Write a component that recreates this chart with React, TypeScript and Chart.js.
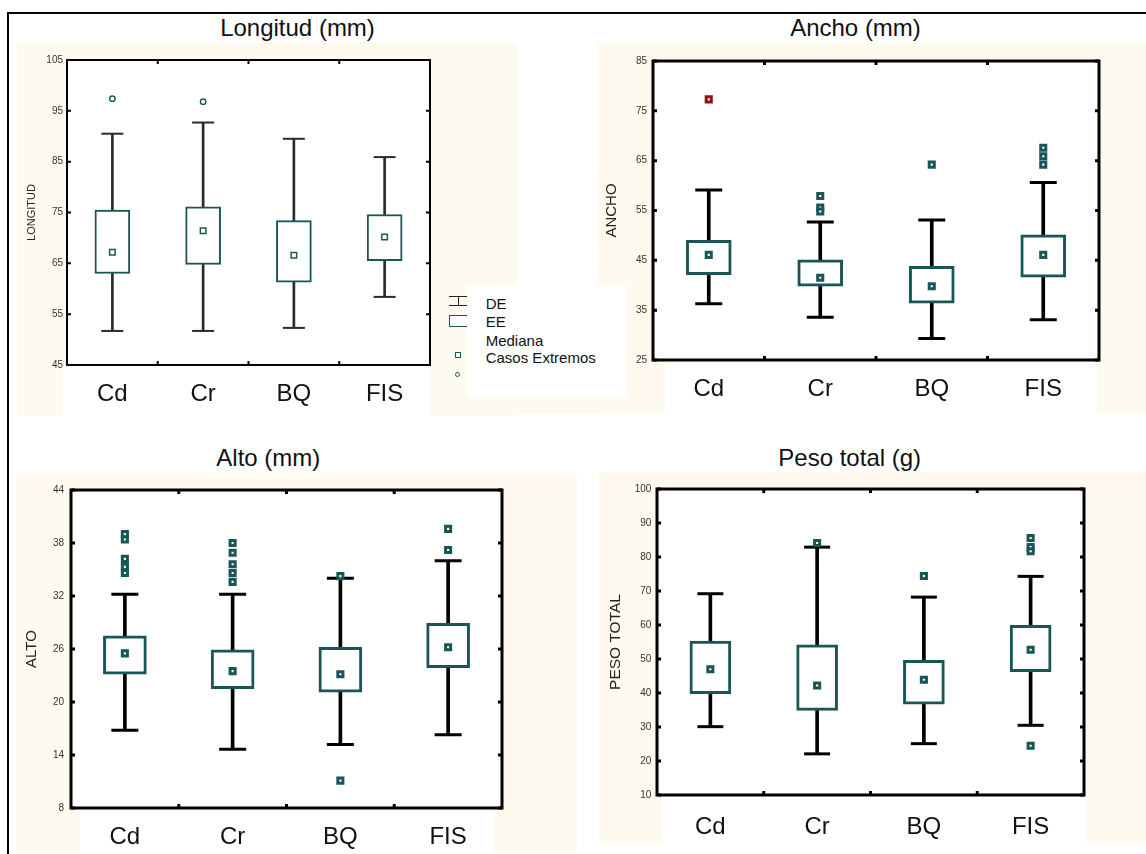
import React, { useEffect, useRef } from 'react';
import { Chart, registerables } from 'chart.js';
Chart.register(...registerables);

const FONT = "'Liberation Sans', Arial, Helvetica, sans-serif";
const TEAL = '#1a5656';
const RED = '#8b1414';
const CREAM = '#fffaf0';

const categories = ['Cd', 'Cr', 'BQ', 'FIS'];

// Longitud (mm)
const longitudDE = [[51.7, 90.5], [51.7, 92.7], [52.3, 89.5], [58.4, 85.9]];
const longitudEE = [[63.0, 75.5], [64.8, 76.1], [61.3, 73.4], [65.5, 74.6]];
const longitudMediana = [67.2, 71.4, 66.6, 70.2];
const longitudExtremos = [{ x: 'Cd', y: 97.4 }, { x: 'Cr', y: 96.8 }];

// Ancho (mm)
const anchoDE = [[36.3, 59.1], [33.6, 52.7], [29.3, 53.1], [33.1, 60.6]];
const anchoEE = [[42.1, 49.0], [39.8, 45.1], [36.4, 43.8], [41.6, 50.1]];
const anchoMediana = [46.1, 41.5, 39.8, 46.1];
const anchoExtremos = [
  { x: 'Cr', y: 57.9 }, { x: 'Cr', y: 55.6 }, { x: 'Cr', y: 54.8 },
  { x: 'BQ', y: 64.2 },
  { x: 'FIS', y: 67.6 }, { x: 'FIS', y: 65.9 }, { x: 'FIS', y: 64.2 },
];
const anchoExtremosDestacados = [{ x: 'Cd', y: 77.3 }];

// Alto (mm)
const altoDE = [[16.8, 32.2], [14.65, 32.2], [15.2, 34.0], [16.3, 36.0]];
const altoEE = [[23.15, 27.5], [21.5, 25.9], [21.1, 26.2], [23.9, 28.9]];
const altoMediana = [25.5, 23.5, 23.15, 26.2];
const altoExtremos = [
  { x: 'Cd', y: 39.0 }, { x: 'Cd', y: 38.4 }, { x: 'Cd', y: 36.2 }, { x: 'Cd', y: 35.3 }, { x: 'Cd', y: 34.6 },
  { x: 'Cr', y: 38.0 }, { x: 'Cr', y: 36.9 }, { x: 'Cr', y: 35.6 }, { x: 'Cr', y: 34.6 }, { x: 'Cr', y: 33.6 },
  { x: 'BQ', y: 34.25 }, { x: 'BQ', y: 11.1 },
  { x: 'FIS', y: 39.6 }, { x: 'FIS', y: 37.2 },
];

// Peso total (g)
const pesoDE = [[30.1, 69.2], [22.1, 82.9], [25.1, 68.2], [30.5, 74.3]];
const pesoEE = [[39.8, 55.25], [34.9, 54.2], [36.7, 49.6], [46.3, 59.9]];
const pesoMediana = [47.0, 42.2, 43.9, 52.7];
const pesoExtremos = [
  { x: 'Cr', y: 84.1 }, { x: 'BQ', y: 74.4 },
  { x: 'FIS', y: 85.6 }, { x: 'FIS', y: 82.9 }, { x: 'FIS', y: 81.7 }, { x: 'FIS', y: 24.5 },
];

type Spec = any;

const panels: Spec[] = [
  {
    id: 'longitud', title: 'Longitud (mm)', titleX: 297.5, titleY: 16.3,
    left: 17, top: 43, width: 500, height: 373,
    padTop: 17, padRight: 87, yAxisWidth: 50, xAxisHeight: 51,
    yMin: 45, yMax: 105, yStep: 10, yTitle: 'LONGITUD', yTitleSize: 11, yTitlePad: 8, yTickPad: 4,
    de: longitudDE, ee: longitudEE, med: longitudMediana, ext: longitudExtremos, extHi: [],
    extStyle: 'circle', extRadius: 2.7, extBorder: 1.4,
    boxWidth: 35, boxBorder: 2, stemWidth: 2, capRadius: 11, capWidth: 2, whiskerColor: '#2a2a2a',
    markerRadius: 3.9, markerBorder: 1.5, frameWidth: 2,
    xFontSize: 24, xPad: 15, bandL: -4, bandR: 0,
  },
  {
    id: 'ancho', title: 'Ancho (mm)', titleX: 855.5, titleY: 16.3,
    left: 597, top: 43, width: 549, height: 370,
    padTop: 18, padRight: 47, yAxisWidth: 56, xAxisHeight: 53,
    yMin: 25, yMax: 85, yStep: 10, yTitle: 'ANCHO', yTitleSize: 15, yTitlePad: 5.7, yTickPad: 6,
    de: anchoDE, ee: anchoEE, med: anchoMediana, ext: anchoExtremos, extHi: anchoExtremosDestacados,
    extStyle: 'rect', extRadius: 3.6, extBorder: 3,
    boxWidth: 45, boxBorder: 3, stemWidth: 3, capRadius: 13.5, capWidth: 3, whiskerColor: '#000',
    markerRadius: 3.6, markerBorder: 3, frameWidth: 3,
    xFontSize: 24, xPad: 14.5, bandL: 12, bandR: -2,
  },
  {
    id: 'alto', title: 'Alto (mm)', titleX: 268.3, titleY: 446.3,
    left: 16, top: 473, width: 561, height: 380,
    padTop: 17, padRight: 75, yAxisWidth: 55, xAxisHeight: 45,
    yMin: 8, yMax: 44, yStep: 6, yTitle: 'ALTO', yTitleSize: 15, yTitlePad: 6.7, yTickPad: 7,
    de: altoDE, ee: altoEE, med: altoMediana, ext: altoExtremos, extHi: [],
    extStyle: 'rect', extRadius: 3.6, extBorder: 3,
    boxWidth: 43, boxBorder: 3, stemWidth: 3, capRadius: 13.5, capWidth: 3, whiskerColor: '#000',
    markerRadius: 3.6, markerBorder: 3, frameWidth: 3,
    xFontSize: 24, xPad: 14.5, bandL: 9, bandR: -9,
  },
  {
    id: 'peso', title: 'Peso total (g)', titleX: 849.7, titleY: 446.3,
    left: 599, top: 472, width: 547, height: 371,
    padTop: 17, padRight: 62, yAxisWidth: 58, xAxisHeight: 48,
    yMin: 10, yMax: 100, yStep: 10, yTitle: 'PESO TOTAL', yTitleSize: 15.5, yTitlePad: 7, yTickPad: 5.6,
    de: pesoDE, ee: pesoEE, med: pesoMediana, ext: pesoExtremos, extHi: [],
    extStyle: 'rect', extRadius: 3.6, extBorder: 3,
    boxWidth: 41, boxBorder: 3, stemWidth: 3, capRadius: 13, capWidth: 3, whiskerColor: '#000',
    markerRadius: 3.6, markerBorder: 3, frameWidth: 3,
    xFontSize: 24, xPad: 17.5, bandL: 5, bandR: 2,
  },
];

const bgPlugin = {
  id: 'panelBg',
  beforeDraw(chart: any, _args: any, opts: any) {
    const { ctx, chartArea: a, width, height } = chart;
    ctx.save();
    ctx.fillStyle = CREAM;
    ctx.fillRect(0, 0, width, height);
    ctx.fillStyle = '#ffffff';
    ctx.fillRect(a.left, a.top, a.right - a.left, a.bottom - a.top);
    const bl = a.left + (opts.bandL || 0);
    const br = a.right + (opts.bandR || 0);
    ctx.fillRect(bl, a.bottom, br - bl, height - a.bottom);
    ctx.restore();
  },
};

const framePlugin = {
  id: 'panelFrame',
  afterDatasetsDraw(chart: any, _args: any, opts: any) {
    const { ctx, chartArea: a, scales } = chart;
    const w = opts.width || 2;
    ctx.save();
    ctx.strokeStyle = '#000';
    ctx.lineWidth = w;
    ctx.strokeRect(a.left, a.top, a.right - a.left, a.bottom - a.top);
    const len = 4;
    ctx.beginPath();
    scales.y.ticks.forEach((_t: any, i: number) => {
      const py = scales.y.getPixelForTick(i);
      ctx.moveTo(a.left, py); ctx.lineTo(a.left + len, py);
      ctx.moveTo(a.right, py); ctx.lineTo(a.right - len, py);
    });
    const n = categories.length;
    for (let i = 0; i < n - 1; i++) {
      const px = (scales.x.getPixelForValue(i) + scales.x.getPixelForValue(i + 1)) / 2;
      ctx.moveTo(px, a.top); ctx.lineTo(px, a.top + len);
      ctx.moveTo(px, a.bottom); ctx.lineTo(px, a.bottom - len);
    }
    ctx.stroke();
    ctx.restore();
  },
};

function buildChart(canvas: HTMLCanvasElement, s: Spec) {
  const capPoints = s.de.flatMap((r: number[], i: number) => [
    { x: categories[i], y: r[0] },
    { x: categories[i], y: r[1] },
  ]);
  const datasets: any[] = [
    {
      type: 'bar', label: 'DE', data: s.de, backgroundColor: s.whiskerColor, borderWidth: 0,
      barThickness: s.stemWidth, grouped: false, order: 6,
    },
    {
      type: 'bar', label: 'EE', data: s.ee, backgroundColor: '#ffffff', borderColor: TEAL,
      borderWidth: s.boxBorder, borderSkipped: false, barThickness: s.boxWidth, grouped: false, order: 5,
    },
    {
      type: 'line', label: 'DE caps', data: capPoints, showLine: false, pointStyle: 'line',
      pointRadius: s.capRadius, pointBorderWidth: s.capWidth, pointBorderColor: s.whiskerColor,
      pointBackgroundColor: s.whiskerColor, order: 4,
    },
    {
      type: 'line', label: 'Mediana', data: s.med, showLine: false, pointStyle: 'rect',
      pointRadius: s.markerRadius, pointBorderWidth: s.markerBorder, pointBorderColor: TEAL,
      pointBackgroundColor: '#ffffff', order: 3,
    },
    {
      type: 'line', label: 'Casos Extremos', data: s.ext, showLine: false, pointStyle: s.extStyle,
      pointRadius: s.extRadius, pointBorderWidth: s.extBorder, pointBorderColor: TEAL,
      pointBackgroundColor: '#ffffff', order: 2,
    },
  ];
  if (s.extHi.length) {
    datasets.push({
      type: 'line', label: 'Casos Extremos*', data: s.extHi, showLine: false, pointStyle: s.extStyle,
      pointRadius: s.extRadius, pointBorderWidth: s.extBorder, pointBorderColor: RED,
      pointBackgroundColor: '#ffffff', order: 1,
    });
  }
  return new Chart(canvas, {
    type: 'bar',
    data: { labels: categories, datasets },
    options: {
      responsive: false,
      animation: false,
      devicePixelRatio: 1,
      events: [],
      layout: { padding: { top: s.padTop, right: s.padRight, left: 0, bottom: 0 } },
      plugins: {
        legend: { display: false },
        tooltip: { enabled: false },
        title: { display: false },
        panelBg: { bandL: s.bandL, bandR: s.bandR },
        panelFrame: { width: s.frameWidth },
      } as any,
      scales: {
        x: {
          type: 'category',
          offset: true,
          grid: { display: false, drawTicks: false },
          border: { display: false },
          ticks: {
            font: { family: FONT, size: s.xFontSize },
            color: '#111',
            padding: s.xPad,
            autoSkip: false,
            maxRotation: 0,
          },
          afterFit: (sc: any) => { sc.height = s.xAxisHeight; },
        },
        y: {
          type: 'linear',
          min: s.yMin,
          max: s.yMax,
          grid: { display: false, drawTicks: false },
          border: { display: false },
          ticks: {
            stepSize: s.yStep,
            font: { family: FONT, size: 10 },
            color: '#333',
            padding: s.yTickPad,
          },
          title: {
            display: true,
            text: s.yTitle,
            font: { family: FONT, size: s.yTitleSize },
            color: '#222',
            padding: { top: s.yTitlePad, bottom: 0 },
          },
          afterFit: (sc: any) => { sc.width = s.yAxisWidth; },
        },
      } as any,
    },
    plugins: [bgPlugin, framePlugin],
  } as any);
}

function Panel({ spec }: { spec: Spec }) {
  const ref = useRef<HTMLCanvasElement | null>(null);
  useEffect(() => {
    if (!ref.current) return;
    const chart = buildChart(ref.current, spec);
    return () => chart.destroy();
  }, [spec]);
  return (
    <canvas
      ref={ref}
      width={spec.width}
      height={spec.height}
      style={{ position: 'absolute', left: spec.left, top: spec.top, width: spec.width, height: spec.height }}
    />
  );
}

const abs = (left: number, top: number, width: number, height: number, extra: any = {}) => ({
  position: 'absolute' as const, left, top, width, height, ...extra,
});

export default function App() {
  const legendText = { position: 'absolute' as const, left: 485.7, fontSize: 15, lineHeight: '15px', color: '#111', whiteSpace: 'nowrap' as const };
  return (
    <div style={{ position: 'absolute', left: 0, top: 0, width: 1146, height: 854, background: '#fff', overflow: 'hidden', fontFamily: FONT }}>
      {panels.map((p) => <Panel key={p.id} spec={p} />)}
      {panels.map((p) => (
        <div key={p.id + '-t'} style={{ position: 'absolute', left: p.titleX, top: p.titleY, transform: 'translateX(-50%)', fontSize: 24, lineHeight: '24px', color: '#111', whiteSpace: 'nowrap' }}>
          {p.title}
        </div>
      ))}
      <div style={abs(8, 12, 1138, 2, { background: '#000' })} />
      <div style={abs(7, 12, 2, 842, { background: '#000' })} />
      {/* legend */}
      <div style={abs(517, 285, 84, 129, { background: CREAM })} />
      <div style={abs(449, 295.5, 20, 1.5, { background: '#222' })} />
      <div style={abs(449, 304.5, 20, 1.5, { background: '#222' })} />
      <div style={abs(457.5, 296, 1.5, 9, { background: '#222' })} />
      <div style={abs(449, 315, 24, 12, { border: `1.5px solid ${TEAL}`, background: '#fff', boxSizing: 'border-box' })} />
      <div style={abs(454.7, 352, 6, 6, { border: `1.5px solid ${TEAL}`, background: '#fff', boxSizing: 'border-box' })} />
      <div style={abs(455.2, 371.5, 5, 5, { border: `1.4px solid ${TEAL}`, background: '#fff', boxSizing: 'border-box', borderRadius: '50%' })} />
      <div style={abs(467, 285, 160, 112, { background: '#fff' })} />
      <div style={{ ...legendText, top: 296 }}>DE</div>
      <div style={{ ...legendText, top: 314.4 }}>EE</div>
      <div style={{ ...legendText, top: 332.7 }}>Mediana</div>
      <div style={{ ...legendText, top: 350 }}>Casos Extremos</div>
    </div>
  );
}
